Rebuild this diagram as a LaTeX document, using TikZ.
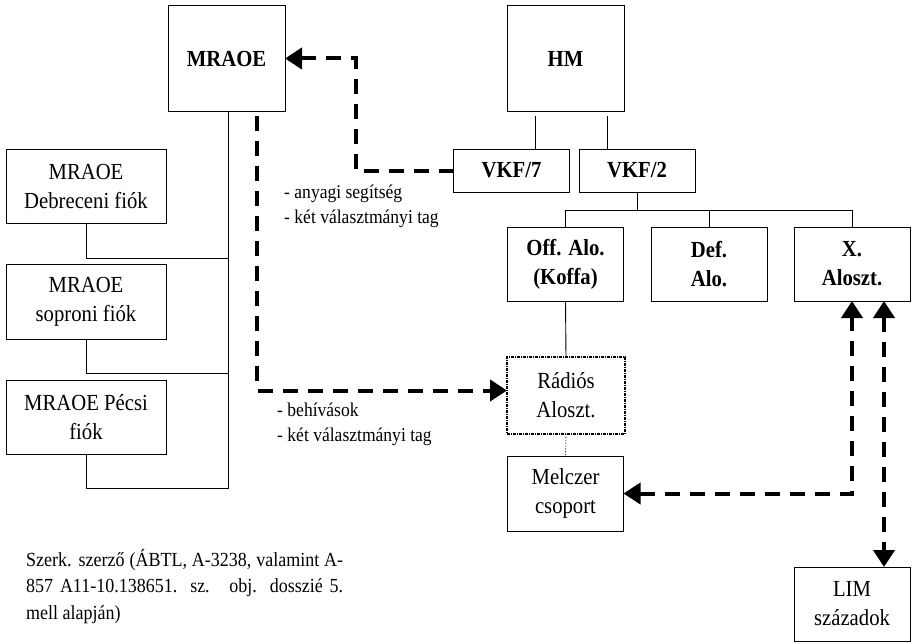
\documentclass[tikz,border=0pt]{standalone}
\usepackage{fontspec}
\setmainfont{Liberation Serif}[FakeStretch=0.9]
\usetikzlibrary{arrows.meta}

\newcommand{\boxfont}{\fontsize{23}{29}\selectfont}
\newcommand{\notefont}{\fontsize{19.5}{25}\selectfont}
\newcommand{\srcfont}{\fontsize{20}{26.5}\selectfont}

\tikzstyle{main}  = [draw, line width=1pt, inner sep=0pt, outer sep=0pt, align=center, font=\boxfont]
\tikzstyle{size1} = [main, minimum width=116pt, minimum height=74pt]
\tikzstyle{size2} = [main, minimum width=160pt, minimum height=74pt]
\tikzstyle{size3} = [main, minimum width=116pt, minimum height=43pt]
\tikzstyle{size4} = [main, minimum width=117pt, minimum height=105pt]
\tikzstyle{cbold} = [font=\boxfont\bfseries]
\tikzstyle{cdot}  = [line width=1.3pt, dash pattern=on 3pt off 1pt on 1pt off 1pt]
\tikzstyle{tree}  = [line width=0.9pt]
\tikzstyle{link}  = [line width=4pt, dash pattern=on 15pt off 10pt, -{Triangle[length=17pt,width=21pt]}]
\tikzstyle{link2} = [link, {Triangle[length=17pt,width=21pt]}-{Triangle[length=17pt,width=21pt]}]
\tikzstyle{note}  = [inner sep=0pt, align=left, font=\notefont]

\begin{document}
\begin{tikzpicture}[x=1pt, y=-1pt]
  \useasboundingbox (0,0) rectangle (912,642);
  \draw
    node[size4, cbold] (mraoe) at (226.5, 58.5) {MRAOE}
    node[size4, cbold] (hm)    at (565.5, 58.5) {HM}
    node[size3, cbold] (vkf7)  at (511.5, 170.5) {VKF/7}
    node[size3, cbold] (vkf2)  at (637, 170.5) {VKF/2}
    node[size1, cbold] (off)   at (565.5, 264) {Off. Alo.\\(Koffa)}
    node[size1, cbold] (def)   at (709, 264) {Def.\\Alo.}
    node[size1, cbold] (xal)   at (852, 264) {X.\\Aloszt.}
    node[size1, cdot, minimum width=118pt, minimum height=77pt] (rad) at (566, 395.5) {Rádiós\\Aloszt.}
    node[size1, minimum height=75pt] (melc) at (565.5, 493.5) {Melczer\\csoport}
    node[size1] (lim)  at (852, 604) {LIM\\századok}
    node[size2] (debr) at (86, 186) {MRAOE\\Debreceni fiók}
    node[size2, minimum height=75pt] (sopr) at (86, 301.5) {MRAOE\\soproni fiók}
    node[size2] (pecs) at (86, 417) {MRAOE Pécsi\\fiók};

  \draw[tree] ([xshift=-30.5pt,yshift=-5pt]hm.south) -- ([xshift=-30.5pt]hm.south |- vkf7.north);
  \draw[tree] ([xshift=41.5pt,yshift=-5pt]hm.south) -- ([xshift=41.5pt]hm.south |- vkf2.north);
  \draw[tree] (vkf2.south) -- ++(0,18) coordinate (bus);
  \draw[tree] (off.north) -- (off.north |- bus) -- (xal.north |- bus) -- (xal.north);
  \draw[tree] (def.north) -- (def.north |- bus);
  \draw[tree] (off.south) -- (rad.north);
  \draw[tree, dotted] (rad.south) -- (melc.north);

  \coordinate (trunk) at (228, 488);
  \draw[tree] (mraoe.south -| trunk) -- (trunk) -- (trunk -| pecs.south) -- (pecs.south);
  \draw[tree] (debr.south) -- ++(0,35) coordinate (d1) -- (d1 -| trunk);
  \draw[tree] (sopr.south) -- ++(0,34) coordinate (s1) -- (s1 -| trunk);

  \draw[link] (vkf7.west) -- ++(-98,0) |- (mraoe.east);
  \draw[link] ([xshift=30.5pt,yshift=-5pt]mraoe.south) |- ([yshift=5pt]rad.west);
  \draw[link2] (melc.east) -| (xal.south);
  \draw[link2] ([xshift=32pt]xal.south) -- ([xshift=32pt]lim.north);

  \node[note, anchor=north west] (help) at (284, 185) {- anyagi segítség\\- két választmányi tag};
  \node[note, anchor=north west] (call) at (277, 403) {- behívások\\- két választmányi tag};
  \node[inner sep=0pt, anchor=north west, font=\srcfont, align=left] (src) at (26, 549)
    {\makebox[317pt][s]{Szerk. szerző (ÁBTL, A-3238, valamint A-}\\
     \makebox[317pt][s]{857 A11-10.138651. sz. \ obj. dosszié 5.}\\
     mell alapján)};
\end{tikzpicture}
\end{document}
